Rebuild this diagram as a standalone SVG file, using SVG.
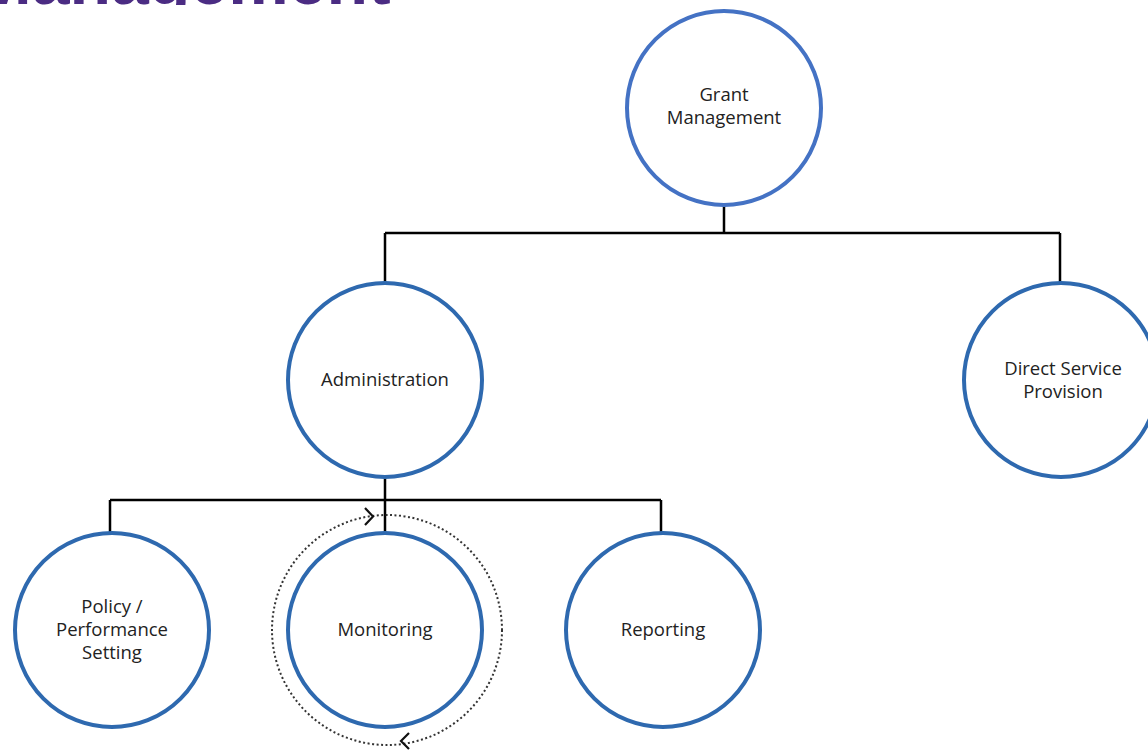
<svg xmlns="http://www.w3.org/2000/svg" width="1148" height="752" viewBox="0 0 1148 752">
<style>
.node{fill:#fff;stroke:#2E69AF;stroke-width:4}
.top{stroke:#4472C4}
.lbl{font-family:"Open Sans","Liberation Sans",sans-serif;font-size:18.5px;fill:#222;text-anchor:middle}
.conn{stroke:#000;stroke-width:2.5;fill:none}
.dot{stroke:#333;stroke-width:2;fill:none;stroke-dasharray:2 2.5}
.chev{stroke:#111;stroke-width:2.2;fill:none}
</style>
<defs>
<clipPath id="tclip"><rect x="0" y="0" width="1148" height="5"/></clipPath>
</defs>
<rect width="1148" height="752" fill="#fff"/>
<g clip-path="url(#tclip)">
<text x="-25" y="4" font-family="Liberation Sans, Arial, sans-serif" font-weight="bold" font-size="68" fill="#4B2C83">Management</text>
</g>
<g id="connectors">
<path class="conn" d="M724 206V233M385 233H1060M385 233V284M1060 233V284"/>
<path class="conn" d="M385 477V534M110 500H661M110 500V532M661 500V532"/>
</g>
<g id="cycle">
<circle class="dot" cx="387" cy="630" r="115"/>
<polyline class="chev" points="365,508 373,516.5 365,525"/>
<polyline class="chev" points="409,733 401,741 409,749"/>
</g>
<g id="grant">
<circle class="node top" cx="724" cy="108" r="97"/>
<text class="lbl" x="724" y="101">Grant</text>
<text class="lbl" x="724" y="124">Management</text>
</g>
<g id="admin">
<circle class="node" cx="385" cy="380" r="97"/>
<text class="lbl" x="385" y="386">Administration</text>
</g>
<g id="dsp">
<circle class="node" cx="1061" cy="380" r="97"/>
<text class="lbl" x="1063" y="375">Direct Service</text>
<text class="lbl" x="1063" y="398">Provision</text>
</g>
<g id="policy">
<circle class="node" cx="112" cy="630" r="97"/>
<text class="lbl" x="112" y="613">Policy /</text>
<text class="lbl" x="112" y="636">Performance</text>
<text class="lbl" x="112" y="659">Setting</text>
</g>
<g id="monitoring">
<circle class="node" cx="385" cy="630" r="97"/>
<text class="lbl" x="385" y="636">Monitoring</text>
</g>
<g id="reporting">
<circle class="node" cx="663" cy="630" r="97"/>
<text class="lbl" x="663" y="636">Reporting</text>
</g>
</svg>
